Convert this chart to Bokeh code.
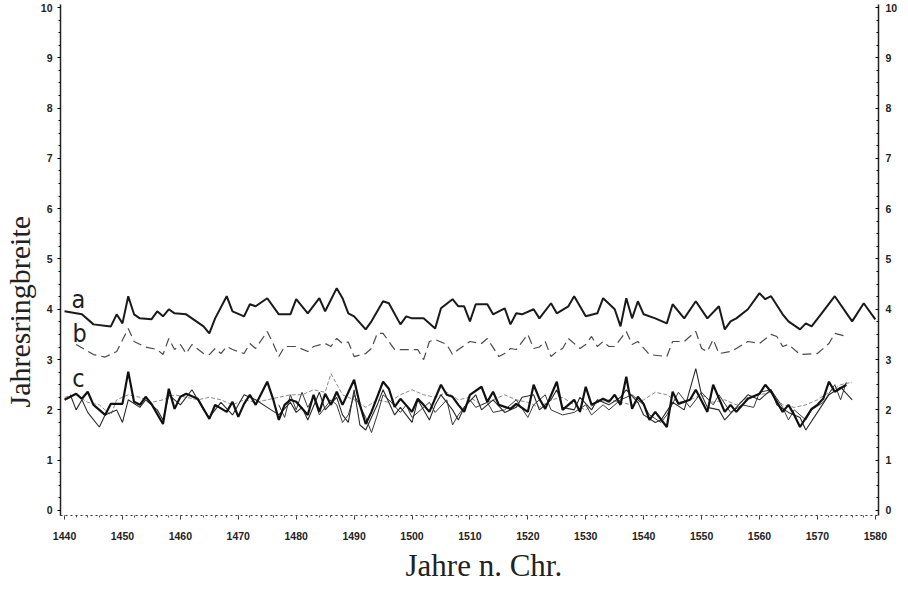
import math
from bokeh.plotting import figure
from bokeh.models import Label, LinearAxis, FixedTicker, Range1d, Title
from bokeh.embed import file_html
from bokeh.resources import INLINE

# ---- data ----
a_years = [1440, 1443, 1445, 1448, 1449, 1450, 1451, 1452, 1453, 1455, 1456, 1457, 1458, 1459, 1461, 1462,
           1464, 1465, 1466, 1468, 1469, 1471, 1472, 1473, 1475, 1477, 1479, 1480, 1482, 1484, 1485, 1487,
           1488, 1489, 1490, 1492, 1493, 1495, 1496, 1498, 1499, 1500, 1502, 1504, 1505, 1507, 1508, 1509,
           1510, 1511, 1513, 1514, 1516, 1517, 1518, 1519, 1521, 1522, 1524, 1525, 1527, 1528, 1530, 1532,
           1533, 1535, 1536, 1537, 1538, 1539, 1540, 1542, 1544, 1545, 1547, 1549, 1551, 1553, 1554, 1555,
           1556, 1558, 1560, 1561, 1562, 1564, 1565, 1567, 1568, 1569, 1571, 1573, 1576, 1578, 1580]
a_vals = [3.96, 3.9, 3.7, 3.66, 3.9, 3.72, 4.26, 3.9, 3.82, 3.8, 3.96, 3.86, 4.0, 3.92, 3.9, 3.82,
          3.66, 3.52, 3.82, 4.26, 3.96, 3.86, 4.1, 4.06, 4.22, 3.9, 3.9, 4.2, 3.92, 4.22, 3.96, 4.42,
          4.22, 3.92, 3.86, 3.6, 3.76, 4.16, 4.12, 3.7, 3.86, 3.82, 3.82, 3.62, 4.02, 4.2, 4.06, 4.06,
          3.76, 4.1, 4.1, 3.9, 4.02, 3.7, 3.92, 3.9, 4.0, 3.82, 4.12, 3.92, 4.06, 4.26, 3.86, 3.92,
          4.22, 4.0, 3.66, 4.22, 3.82, 4.16, 3.9, 3.82, 3.72, 4.1, 3.82, 4.16, 3.82, 4.06, 3.6, 3.76,
          3.82, 4.0, 4.32, 4.2, 4.26, 3.9, 3.76, 3.6, 3.72, 3.66, 3.96, 4.26, 3.76, 4.12, 3.8]

b_years = [1442, 1445, 1447, 1449, 1451, 1452, 1454, 1456, 1457, 1458, 1459, 1460, 1461, 1462, 1464, 1465,
           1466, 1467, 1468, 1469, 1471, 1472, 1473, 1475, 1476, 1477, 1478, 1480, 1482, 1483, 1485, 1486,
           1487, 1488, 1489, 1490, 1492, 1493, 1494, 1495, 1497, 1499, 1501, 1502, 1503, 1504, 1506, 1507,
           1508, 1510, 1512, 1513, 1515, 1516, 1517, 1518, 1520, 1521, 1522, 1523, 1524, 1525, 1526, 1527,
           1529, 1530, 1531, 1532, 1533, 1534, 1535, 1537, 1538, 1539, 1541, 1544, 1545, 1547, 1549, 1550,
           1551, 1552, 1553, 1555, 1556, 1558, 1560, 1562, 1563, 1564, 1565, 1567, 1570, 1572, 1573, 1575]
b_vals = [3.3, 3.1, 3.05, 3.16, 3.62, 3.36, 3.25, 3.2, 3.1, 3.42, 3.2, 3.3, 3.12, 3.3, 3.12, 3.1,
          3.22, 3.12, 3.26, 3.2, 3.12, 3.32, 3.22, 3.56, 3.32, 3.06, 3.26, 3.26, 3.16, 3.26, 3.32, 3.26,
          3.42, 3.32, 3.35, 3.06, 3.12, 3.22, 3.52, 3.52, 3.2, 3.2, 3.2, 3.0, 3.36, 3.4, 3.3, 3.1,
          3.2, 3.36, 3.32, 3.42, 3.06, 3.12, 3.22, 3.2, 3.5, 3.22, 3.25, 3.36, 3.06, 3.16, 3.22, 3.42,
          3.22, 3.3, 3.46, 3.26, 3.36, 3.26, 3.26, 3.56, 3.3, 3.36, 3.1, 3.06, 3.36, 3.36, 3.56, 3.22,
          3.16, 3.4, 3.12, 3.16, 3.22, 3.36, 3.32, 3.5, 3.46, 3.26, 3.3, 3.1, 3.12, 3.32, 3.52, 3.46]

c1_years = [1440, 1442, 1443, 1444, 1445, 1447, 1448, 1450, 1451, 1452, 1453, 1454, 1455, 1457, 1458, 1459,
            1460, 1461, 1463, 1465, 1466, 1468, 1469, 1470, 1471, 1472, 1473, 1475, 1476, 1477, 1478, 1479,
            1480, 1482, 1483, 1484, 1485, 1486, 1487, 1488, 1490, 1491, 1492, 1493, 1495, 1496, 1497, 1498,
            1500, 1501, 1502, 1503, 1505, 1506, 1507, 1508, 1509, 1510, 1512, 1513, 1514, 1515, 1517, 1518,
            1520, 1521, 1522, 1523, 1525, 1526, 1528, 1529, 1530, 1531, 1533, 1534, 1535, 1536, 1537, 1538,
            1539, 1540, 1541, 1542, 1544, 1545, 1546, 1548, 1549, 1551, 1552, 1554, 1555, 1556, 1558, 1560,
            1561, 1562, 1564, 1565, 1566, 1567, 1569, 1570, 1571, 1572, 1573, 1575]
c1_vals = [2.2, 2.32, 2.22, 2.36, 2.1, 1.9, 2.12, 2.12, 2.76, 2.16, 2.1, 2.26, 2.12, 1.72, 2.42, 2.02,
           2.26, 2.32, 2.22, 1.82, 2.1, 1.96, 2.16, 1.86, 2.12, 2.3, 2.1, 2.56, 2.22, 1.8, 2.1, 2.2,
           2.16, 1.9, 2.3, 1.96, 2.32, 2.1, 2.36, 2.1, 2.6, 2.1, 1.72, 1.96, 2.56, 2.42, 2.06, 2.22,
           1.96, 2.22, 2.1, 1.96, 2.5, 2.3, 2.26, 2.1, 1.96, 2.3, 2.46, 2.16, 2.36, 2.1, 2.02, 2.12,
           1.96, 2.5, 2.22, 2.02, 2.56, 2.0, 2.2, 1.96, 2.46, 2.1, 2.22, 2.16, 2.3, 2.1, 2.66, 2.02,
           2.26, 2.12, 1.8, 1.96, 1.66, 2.36, 2.12, 2.2, 2.4, 1.96, 2.5, 1.96, 2.1, 1.96, 2.22, 2.32,
           2.5, 2.36, 1.96, 2.1, 1.9, 1.66, 2.02, 2.1, 2.22, 2.56, 2.36, 2.5]

c2_years = [1441, 1442, 1443, 1444, 1446, 1447, 1449, 1450, 1451, 1453, 1454, 1456, 1457, 1458, 1460, 1462,
            1464, 1465, 1467, 1469, 1471, 1473, 1475, 1477, 1479, 1480, 1481, 1482, 1484, 1485, 1487, 1488,
            1489, 1490, 1491, 1492, 1494, 1495, 1497, 1498, 1500, 1501, 1503, 1504, 1505, 1507, 1508, 1509,
            1511, 1512, 1514, 1516, 1518, 1519, 1521, 1522, 1524, 1525, 1526, 1528, 1529, 1531, 1532, 1534,
            1536, 1537, 1539, 1540, 1542, 1543, 1545, 1547, 1549, 1550, 1551, 1553, 1554, 1556, 1558, 1560,
            1562, 1563, 1565, 1567, 1568, 1570, 1572, 1574, 1576]
c2_vals = [2.3, 2.0, 2.2, 1.95, 1.66, 1.9, 2.0, 1.75, 2.2, 2.05, 2.2, 2.0, 1.8, 2.3, 2.1, 2.4,
           2.0, 1.85, 2.15, 1.9, 2.3, 2.2, 2.05, 1.9, 2.15, 1.95, 2.05, 1.8, 2.35, 2.0, 2.25, 1.9,
           1.75, 2.4, 1.7, 1.6, 2.1, 2.4, 1.9, 2.05, 1.75, 2.2, 1.8, 2.1, 2.3, 2.0, 1.8, 2.05,
           2.3, 2.0, 2.2, 1.95, 2.05, 2.25, 2.3, 2.0, 2.2, 2.4, 2.05, 2.0, 2.25, 2.0, 2.2, 2.1,
           2.25, 2.4, 2.15, 1.9, 1.75, 1.8, 2.15, 2.0, 2.82, 2.3, 2.05, 2.0, 1.8, 2.05, 2.3, 2.2,
           2.4, 2.1, 1.95, 1.85, 1.6, 1.95, 2.3, 2.45, 2.2]

c3_years = [1477, 1478, 1479, 1480, 1481, 1482, 1483, 1484, 1486, 1487, 1488, 1489, 1490, 1492, 1493, 1494,
            1495, 1496, 1498, 1499, 1500, 1502, 1503, 1504, 1506, 1507, 1508, 1510, 1511, 1513, 1514, 1516,
            1518, 1520, 1521, 1523, 1524, 1526, 1528, 1530, 1531, 1533, 1534, 1536, 1538, 1540, 1541, 1543,
            1544, 1546, 1548, 1550, 1552, 1553, 1555, 1557, 1559, 1560, 1562, 1564, 1565, 1566, 1568, 1569,
            1571, 1573, 1574, 1575]
c3_vals = [2.1, 1.85, 2.3, 2.0, 2.35, 2.05, 2.25, 1.9, 2.2, 2.1, 1.75, 1.9, 2.3, 1.85, 1.55, 1.9,
           2.3, 2.2, 1.95, 2.1, 1.85, 2.05, 2.15, 1.95, 2.2, 1.7, 1.9, 2.2, 2.05, 2.15, 1.95, 2.0,
           2.2, 1.85, 2.1, 2.3, 2.0, 1.9, 1.95, 2.1, 1.9, 2.1, 2.0, 2.2, 2.3, 2.1, 1.9, 1.75,
           1.9, 2.35, 2.05, 2.35, 2.1, 2.3, 1.95, 2.1, 2.05, 2.35, 2.4, 2.05, 1.8, 2.0, 1.8, 2.0,
           2.15, 2.5, 2.2, 2.55]

c4_years = [1440, 1442, 1444, 1446, 1448, 1449, 1451, 1453, 1455, 1457, 1459, 1461, 1463, 1465, 1467, 1469,
            1471, 1473, 1475, 1477, 1479, 1481, 1483, 1485, 1486, 1488, 1490, 1492, 1494, 1496, 1498, 1500,
            1502, 1504, 1506, 1508, 1510, 1512, 1514, 1516, 1518, 1520, 1522, 1524, 1526, 1528, 1530, 1532,
            1534, 1536, 1538, 1540, 1542, 1544, 1546, 1548, 1550, 1552, 1554, 1556, 1558, 1560, 1562, 1564,
            1566, 1568, 1570, 1572, 1574, 1576]
c4_vals = [2.25, 2.3, 2.15, 2.1, 1.9, 2.2, 2.3, 2.25, 2.15, 2.2, 2.3, 2.25, 2.2, 2.25, 2.2, 2.1,
           2.2, 2.15, 2.2, 2.25, 2.3, 2.3, 2.4, 2.35, 2.72, 2.3, 2.2, 2.05, 2.2, 2.15, 2.3, 2.4,
           2.3, 2.25, 2.35, 2.2, 2.25, 2.1, 2.2, 2.3, 2.2, 2.15, 2.05, 2.2, 2.25, 2.1, 2.0, 2.15,
           2.2, 2.15, 2.1, 2.2, 2.35, 2.3, 2.15, 2.2, 2.3, 2.15, 2.2, 2.1, 2.25, 2.3, 2.35, 2.1,
           2.05, 2.1, 2.2, 2.35, 2.5, 2.55]

x_ticks = list(range(1440, 1581, 10))
y_ticks = list(range(0, 11))
series_labels = ["a", "b", "c"]
series_label_pos = [(1442.4, 4.2), (1442.6, 3.52), (1442.4, 2.62)]
x_title = "Jahre n. Chr."
y_title = "Jahresringbreite"

# ---- figure ----
p = figure(width=900, height=587, x_range=Range1d(1439.3, 1580.55), y_range=Range1d(-0.1, 10.06),
           output_backend="svg", toolbar_location=None,
           min_border_left=60, min_border_right=18, min_border_top=4, min_border_bottom=72)
p.outline_line_color = None
p.xgrid.visible = False
p.ygrid.visible = False
p.background_fill_color = "white"
p.border_fill_color = "white"

tick_font = "Liberation Sans"

xa = p.xaxis[0]
xa.ticker = FixedTicker(ticks=x_ticks, minor_ticks=list(range(1440, 1581, 2)))
xa.axis_line_dash = "2 3"
xa.axis_line_color = "#333333"
xa.axis_line_width = 1
xa.major_tick_out = 4
xa.major_tick_in = 0
xa.minor_tick_out = 2
xa.minor_tick_in = 0
xa.major_tick_line_color = "#333333"
xa.minor_tick_line_color = "#555555"
xa.major_label_standoff = 12
xa.major_label_text_font = tick_font
xa.major_label_text_font_style = "bold"
xa.major_label_text_font_size = "10.5px"
xa.major_label_text_color = "#222222"

ya = p.yaxis[0]
ya.ticker = FixedTicker(ticks=y_ticks, minor_ticks=[i * 0.25 for i in range(41)])
ya.axis_line_color = "#222222"
ya.axis_line_width = 1.5
ya.major_tick_out = 3
ya.major_tick_in = 0
ya.minor_tick_out = 2
ya.minor_tick_in = 0
ya.major_label_standoff = 5
ya.major_label_text_font = tick_font
ya.major_label_text_font_style = "bold"
ya.major_label_text_font_size = "10.5px"
ya.major_label_text_color = "#222222"

ra = LinearAxis(ticker=FixedTicker(ticks=y_ticks, minor_ticks=[i * 0.25 for i in range(41)]))
ra.axis_line_color = "#222222"
ra.axis_line_width = 1.5
ra.major_tick_out = 0
ra.major_tick_in = 3
ra.minor_tick_out = 0
ra.minor_tick_in = 2
ra.major_label_standoff = 7
ra.major_label_text_font = tick_font
ra.major_label_text_font_style = "bold"
ra.major_label_text_font_size = "10.5px"
ra.major_label_text_color = "#222222"
p.add_layout(ra, "right")

# axis titles as side titles (offset along the axis)
yt = Title(text=y_title, align="left", offset=108, text_font="Liberation Serif",
           vertical_align="top",
           text_font_size="30px", text_font_style="normal", text_color="#222222", standoff=0)
p.add_layout(yt, "left")
xt = Title(text=x_title, align="left", offset=345, text_font="Liberation Serif",
           text_font_size="31px", text_font_style="normal", text_color="#222222", standoff=6)
p.add_layout(xt, "below")

# ---- series ----
p.line(c4_years, c4_vals, line_color="#8a8a8a", line_width=1, line_dash="4 2")
p.line(c3_years, c3_vals, line_color="#3a3a3a", line_width=1)
p.line(c2_years, c2_vals, line_color="#2a2a2a", line_width=1.1)
p.line(c1_years, c1_vals, line_color="#111111", line_width=2.2)
p.line(b_years, b_vals, line_color="#4a4a4a", line_width=1.2, line_dash="9 5")
p.line(a_years, a_vals, line_color="#1a1a1a", line_width=2)

for txt, (lx, ly) in zip(series_labels, series_label_pos):
    p.add_layout(Label(x=lx, y=ly, text=txt, text_align="center", text_baseline="middle",
                       text_font="DejaVu Sans Condensed, Liberation Sans", text_font_size="25px",
                       text_color="#222222"))

open("out.html", "w").write(file_html(p, INLINE))
